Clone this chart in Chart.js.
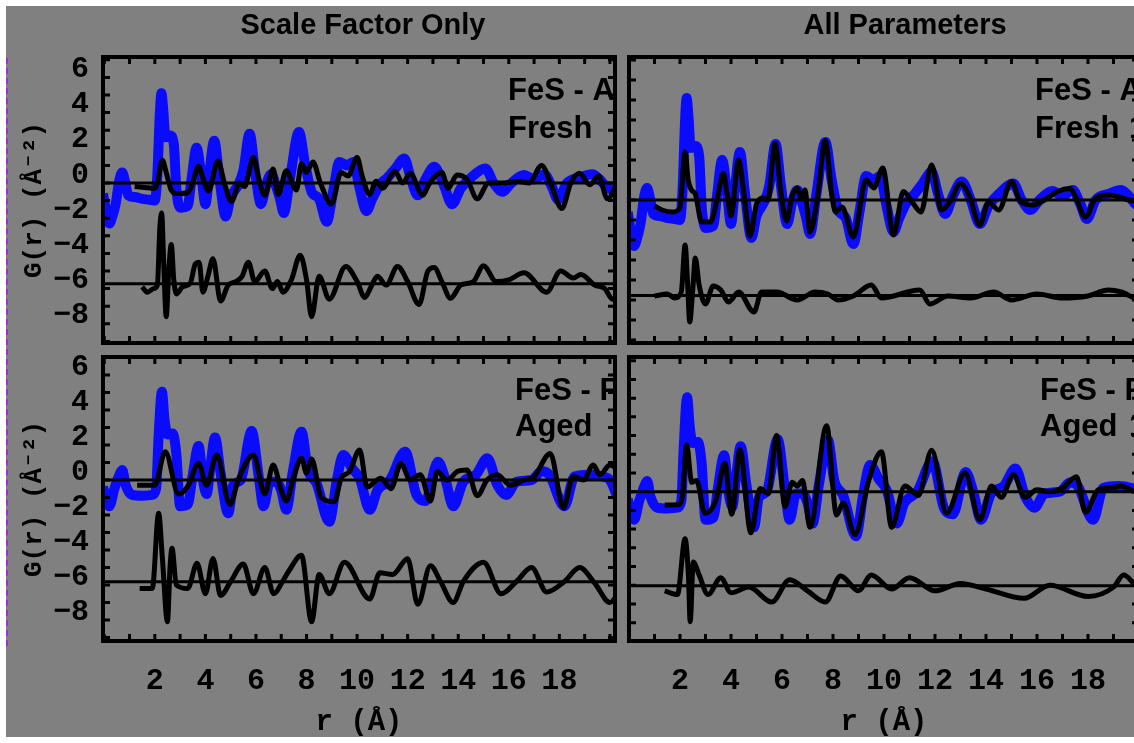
<!DOCTYPE html>
<html>
<head>
<meta charset="utf-8">
<script src="https://cdn.jsdelivr.net/npm/chart.js@4.4.1/dist/chart.umd.min.js"></script>
<style>
  html, body { margin: 0; padding: 0; width: 1134px; height: 743px; overflow: hidden; background: #fff; }
  #bg { position: absolute; left: 6px; top: 6px; width: 1128px; height: 731px; background: #808080; }
  #dash { position: absolute; left: 6px; top: 58px; height: 588px; border-left: 2px dashed #9b30d9; }
  canvas { position: absolute; }
</style>
</head>
<body>
<div id="bg"></div>
<div id="dash"></div>
<canvas id="tl" width="625" height="350" style="left:0;top:0"></canvas>
<canvas id="tr" width="530" height="350" style="left:620px;top:0"></canvas>
<canvas id="bl" width="625" height="398" style="left:0;top:345px"></canvas>
<canvas id="br" width="530" height="398" style="left:620px;top:345px"></canvas>
<script>
// tick labels
const rTickLabels = [2, 4, 6, 8, 10, 12, 14, 16, 18];
const gTickLabels = [6, 4, 2, 0, -2, -4, -6, -8];

// measured G(r), fresh sample (blue)
const freshR = [-0.05,0.1,0.2,0.3,0.45,0.6,0.71,0.82,0.95,1.2,1.5,1.8,2.0,2.1,2.2,2.26,2.33,2.42,2.6,2.75,2.85,3.0,3.3,3.45,3.65,3.85,4.0,4.15,4.35,4.55,4.8,5.0,5.3,5.5,5.75,5.95,6.2,6.4,6.6,6.8,6.95,7.1,7.35,7.7,7.95,8.2,8.5,8.8,9.05,9.3,9.6,9.85,10.1,10.37,10.6,10.9,11.2,11.5,11.87,12.1,12.4,12.7,13.05,13.4,13.76,14.1,14.5,15.07,15.4,15.75,16.1,16.6,17.0,17.4,17.7,17.95,18.3,18.8,19.3,19.6,19.85,20.2,20.4];
const freshG = [-0.6,-1.8,-2.3,-2.0,-1.2,0.2,0.6,0.1,-0.7,-0.8,-0.9,-0.95,-1.0,0.5,4.0,5.1,4.2,2.6,2.7,2.2,-0.3,-1.4,-1.3,0.2,2.0,0.3,-1.2,0.5,2.4,0.3,-1.9,-0.8,-0.1,0.7,2.8,0.8,-1.2,-0.1,0.5,-0.2,-0.9,-1.7,0.3,2.9,1.0,-0.5,-0.9,-2.2,-0.5,1.2,1.0,1.2,-0.3,-1.6,-0.9,-0.1,0.3,0.8,1.4,0.4,-0.7,0.2,0.92,0.0,-1.2,-0.3,0.3,0.82,0.0,-0.5,0.0,0.45,0.2,0.5,-0.2,-0.95,0.0,0.3,0.5,0.2,-0.2,-0.4,-0.3];

// measured G(r), aged sample (blue)
const agedR = [-0.05,0.2,0.4,0.6,0.71,0.85,1.1,1.5,1.9,2.05,2.15,2.28,2.38,2.5,2.7,2.85,3.0,3.3,3.5,3.73,3.9,4.05,4.2,4.38,4.6,4.9,5.1,5.4,5.83,6.1,6.3,6.55,6.8,7.0,7.2,7.45,7.8,8.05,8.4,8.9,9.2,9.45,9.8,10.1,10.5,10.8,11.3,11.9,12.35,12.7,13.2,13.5,13.8,14.2,14.7,15.15,15.55,15.9,16.3,16.9,17.3,17.6,18.2,18.6,19.2,19.7,20.0,20.35];
const agedG = [-0.4,-1.5,-0.5,0.3,0.57,-0.3,-0.85,-0.9,-0.85,-0.5,2.5,5.05,3.5,2.6,2.66,1.5,-1.5,-1.4,0.3,1.95,0.0,-0.8,0.8,2.43,0.4,-1.9,-0.3,0.0,2.8,0.3,-1.5,-0.1,-0.1,-0.6,-1.7,0.4,2.76,0.6,-0.2,-2.38,0.0,1.43,0.67,0.1,-1.7,-0.6,0.0,1.62,-0.86,-1.2,1.05,0.0,-1.5,-0.1,0.3,1.24,-0.3,-0.86,-0.1,0.0,0.5,0.3,-1.5,0.2,0.3,0.2,0.0,-1.2];

// fresh, scale factor only: fit and difference
const fitScaleFreshR = [1.2,1.6,2.0,2.1,2.3,2.45,2.65,2.87,3.3,3.5,3.73,3.9,4.12,4.5,4.75,5.03,5.35,5.55,5.9,6.1,6.35,6.68,6.88,7.2,7.6,7.8,8.0,8.25,8.55,8.98,9.37,9.65,10.0,10.2,10.5,10.75,11.0,11.5,11.8,12.1,12.6,12.85,13.35,13.6,13.95,14.35,14.75,15.2,15.8,16.3,16.8,17.3,17.65,18.1,18.45,18.8,19.2,19.55,19.9,20.3];
const fitScaleFreshG = [-0.2,-0.25,-0.3,0.0,1.3,0.6,-0.4,-0.6,-0.55,0.0,0.95,0.3,-0.45,1.25,0.0,-1.05,0.0,-0.2,1.45,0.3,-0.7,0.8,-0.65,0.7,-0.4,1.1,0.6,1.2,0.0,-1.2,0.6,0.4,1.45,0.4,-0.65,0.1,-0.3,0.65,0.0,0.55,-0.7,-0.05,0.6,-0.3,0.45,0.2,-0.9,0.0,0.0,0.1,0.0,1.0,0.0,-1.45,0.0,0.55,-0.1,0.4,-0.9,0.0];
const diffScaleFreshR = [1.5,1.7,1.95,2.1,2.2,2.27,2.35,2.45,2.55,2.65,2.75,2.85,3.1,3.4,3.6,3.75,3.9,4.1,4.3,4.6,4.9,5.2,5.45,5.7,5.95,6.35,6.65,6.85,7.07,7.4,7.75,8.0,8.2,8.5,8.9,9.55,10.0,10.3,10.55,10.8,11.15,11.6,12.0,12.45,12.8,13.05,13.35,13.7,14.1,14.6,15.0,15.5,16.0,16.6,17.5,18.05,18.55,18.85,19.4,19.8,20.1,20.4];
const diffScaleFreshG = [-5.9,-6.2,-6.0,-5.8,-2.5,-1.7,-4.5,-7.6,-5.0,-3.5,-5.5,-6.3,-5.9,-5.7,-4.6,-4.5,-6.2,-5.3,-4.3,-6.7,-5.8,-5.6,-5.3,-4.5,-5.6,-5.0,-6.0,-5.6,-6.2,-5.5,-4.1,-5.5,-7.6,-5.3,-6.6,-4.75,-5.6,-6.5,-5.9,-5.3,-5.8,-4.75,-5.6,-6.9,-5.0,-4.8,-5.6,-6.55,-5.8,-5.6,-4.7,-5.6,-5.5,-5.1,-6.2,-5.0,-5.4,-5.2,-5.8,-6.0,-6.6,-6.3];

// fresh, all parameters: fit and difference
const fitAllFreshR = [1.0,1.3,1.7,2.0,2.2,2.32,2.45,2.6,2.85,3.2,3.45,3.7,3.85,4.0,4.3,4.5,4.75,5.0,5.25,5.45,5.73,5.95,6.18,6.4,6.6,6.75,6.9,7.1,7.4,7.7,7.95,8.1,8.35,8.8,9.3,9.6,9.95,10.37,10.76,11.1,11.45,11.87,12.25,12.6,13.0,13.35,13.76,14.1,14.5,15.0,15.35,15.85,16.3,16.8,17.3,17.5,17.9,18.3,18.8,19.2,19.6,20.0];
const fitAllFreshG = [-0.3,-0.5,-0.6,-0.4,2.4,1.0,0.5,0.3,-1.1,-1.1,0.0,1.33,0.3,-0.8,2.0,0.4,-1.8,-0.2,0.1,0.0,2.83,0.5,-1.05,0.2,0.6,0.1,0.5,-1.6,0.2,2.98,0.3,-0.6,-0.35,-1.85,1.0,0.6,1.6,-1.75,0.42,-0.1,-0.6,1.75,-0.5,-0.07,0.82,0.2,-1.25,-0.1,-0.5,0.92,-0.08,-0.25,0.0,0.42,0.58,0.2,-0.85,0.08,0.25,0.15,0.0,-0.1];
const diffAllFreshR = [1.0,1.5,1.8,2.05,2.2,2.3,2.38,2.5,2.6,2.75,3.0,3.3,3.6,3.9,4.3,4.9,5.2,5.8,6.6,7.3,7.8,8.2,8.8,9.5,9.9,11.4,11.8,12.5,13.4,14.3,15.0,16.0,17.0,18.0,18.8,19.3,19.8];
const diffAllFreshG = [-4.8,-4.7,-4.9,-4.6,-2.25,-4.2,-6.1,-4.5,-2.9,-4.25,-5.2,-4.3,-4.5,-5.1,-4.6,-5.6,-4.6,-4.6,-5.0,-4.6,-4.7,-5.0,-4.8,-4.25,-4.9,-4.5,-5.2,-4.8,-4.9,-4.6,-5.0,-4.7,-4.9,-4.8,-4.5,-4.6,-4.9];

// aged, scale factor only: fit and difference
const fitScaleAgedR = [1.3,2.0,2.41,2.94,3.33,3.73,4.05,4.45,4.97,5.3,5.9,6.35,6.68,7.0,7.2,7.5,7.8,8.0,8.2,8.58,9.1,9.37,9.7,10.1,10.4,10.94,11.34,11.73,12.1,12.5,12.9,13.17,13.57,13.96,14.35,14.75,15.14,15.54,16.06,16.6,17.0,17.64,18.16,18.55,18.95,19.34,19.6,20.0,20.4];
const fitScaleAgedG = [-0.3,-0.3,1.62,-0.8,-0.3,0.95,-0.3,1.43,-1.4,0.0,1.43,-0.8,0.86,-0.6,-1.2,0.2,1.24,0.4,1.2,-1.0,-1.24,0.1,0.48,1.71,-0.4,0.1,-0.5,0.95,0.0,0.3,-1.2,0.48,0.0,0.48,0.57,-0.9,0.0,0.3,-0.3,0.0,0.2,1.52,-1.6,0.2,0.0,0.86,0.3,0.86,0.5];
const diffScaleAgedR = [1.4,1.9,2.15,2.3,2.5,2.6,2.68,2.85,3.3,3.67,4.0,4.3,4.6,5.0,5.5,5.9,6.35,6.7,7.05,7.3,7.8,8.2,8.5,8.9,9.5,10.5,10.9,11.4,12.0,12.4,12.9,13.3,13.8,14.2,15.0,15.7,16.3,16.9,17.5,18.2,18.8,19.4,20.0,20.4];
const diffScaleAgedG = [-6.2,-6.2,-1.9,-4.5,-8.1,-5.0,-3.9,-6.0,-6.2,-4.76,-6.5,-4.48,-6.6,-5.8,-4.8,-6.5,-5.0,-6.5,-5.8,-5.2,-4.3,-8.1,-5.4,-6.5,-4.7,-6.8,-5.3,-5.4,-4.5,-7.1,-4.9,-5.8,-7.0,-5.8,-4.7,-6.5,-5.8,-5.0,-6.4,-5.8,-5.0,-5.9,-7.0,-6.3];

// aged, all parameters: fit and difference
const fitAllAgedR = [1.4,1.93,2.1,2.26,2.46,2.65,2.98,3.4,3.76,4.03,4.35,4.78,5.14,5.46,5.79,6.12,6.4,6.6,6.8,7.1,7.75,8.14,8.4,8.86,9.39,9.9,10.3,10.82,11.35,11.87,12.46,13.18,13.76,14.22,14.6,15.07,15.53,16.0,16.5,17.0,17.55,17.9,18.4,18.9,19.3,19.8];
const fitAllAgedG = [-0.71,-0.7,-0.2,2.5,0.5,0.6,-1.15,-0.5,1.52,-1.2,2.24,-2.2,0.17,-0.1,3.0,-0.8,0.5,0.3,0.6,-1.9,3.53,-1.25,-0.6,-2.3,0.55,2.13,-1.9,0.3,-0.2,2.22,-1.15,1.0,-1.5,0.3,-0.3,0.9,-0.3,0.1,0.0,0.2,0.8,-1.1,0.1,0.2,0.3,0.0];
const diffAllAgedR = [1.4,1.9,2.2,2.33,2.4,2.52,2.75,3.1,3.6,4.0,4.7,5.6,6.3,7.0,7.7,8.3,9.0,9.5,10.3,11.0,12.0,13.0,14.0,15.5,16.5,18.0,19.0,19.4,19.8];
const diffAllAgedG = [-5.3,-5.5,-2.52,-4.5,-6.95,-3.76,-4.45,-5.5,-4.6,-5.4,-5.1,-5.9,-4.7,-5.3,-5.9,-4.5,-5.3,-4.45,-5.2,-4.6,-5.3,-4.9,-5.2,-5.7,-5.0,-5.6,-5.1,-4.45,-4.9];

// where the difference curves sit
const diffBaseScaleFresh = -5.72;
const diffBaseAllFresh = -4.78;
const diffBaseScaleAged = -5.81;
const diffBaseAllAged = -5.03;

function pts(xs, ys) {
  return xs.map((x, i) => ({ x: x, y: ys[i] }));
}

function fmtTick(v, list) {
  const n = Math.round(v);
  if (Math.abs(v - n) > 1e-6 || !list.includes(n)) return '';
  return String(n).replace('-', '\u2212');
}

// frame, inward ticks and the panel texts
const framePlugin = {
  id: 'frame',
  afterDraw(chart, args, opts) {
    const { ctx, chartArea: a, scales } = chart;
    const xs = scales.x, ys = scales.y;
    ctx.save();
    ctx.strokeStyle = '#000';
    ctx.lineWidth = 3;
    ctx.beginPath();
    for (let v = Math.ceil(xs.min); v <= xs.max; v++) {
      const px = xs.getPixelForValue(v);
      ctx.moveTo(px, a.top); ctx.lineTo(px, a.top + 7);
      ctx.moveTo(px, a.bottom); ctx.lineTo(px, a.bottom - 7);
    }
    for (let v = Math.ceil(ys.min); v <= ys.max; v++) {
      const py = ys.getPixelForValue(v);
      ctx.moveTo(a.left, py); ctx.lineTo(a.left + 7, py);
      ctx.moveTo(a.right, py); ctx.lineTo(a.right - 7, py);
    }
    ctx.stroke();
    ctx.lineWidth = 4;
    ctx.strokeRect(a.left, a.top, a.right - a.left, a.bottom - a.top);

    ctx.fillStyle = '#000';
    if (opts.title) {
      ctx.font = 'bold 29px "Liberation Sans", Arial, sans-serif';
      ctx.textAlign = 'center';
      ctx.textBaseline = 'middle';
      ctx.fillText(opts.title, a.left + opts.titleDx, 26);
    }
    ctx.beginPath();
    ctx.rect(a.left, a.top, a.right - a.left, a.bottom - a.top);
    ctx.clip();
    ctx.font = 'bold 31px "Liberation Sans", Arial, sans-serif';
    ctx.textAlign = 'left';
    ctx.textBaseline = 'alphabetic';
    opts.labels.forEach(l => ctx.fillText(l.text, a.left + l.dx, a.top + l.dy));
    ctx.restore();
  }
};

function makePanel(id, p) {
  const datasets = [
    { data: pts(p.diffR, p.diffG), borderColor: '#000', borderWidth: 5, order: 0 },
    { data: pts(p.fitR, p.fitG), borderColor: '#000', borderWidth: 5, order: 1 },
    { data: pts([p.xMin, p.xMax], [0, 0]), borderColor: '#000', borderWidth: 3, order: 2 },
    { data: pts([p.xMin, p.xMax], [p.diffBase, p.diffBase]), borderColor: '#000', borderWidth: 3, order: 2 },
    { data: pts(p.dataR, p.dataG), borderColor: '#0a0aff', borderWidth: 10, order: 3 }
  ];
  datasets.forEach(d => {
    d.pointRadius = 0;
    d.fill = false;
    d.cubicInterpolationMode = 'monotone';
    d.borderJoinStyle = 'round';
  });

  const monoBold = { family: '"Liberation Mono", "DejaVu Sans Mono", monospace', weight: 'bold' };

  return new Chart(document.getElementById(id), {
    type: 'line',
    data: { datasets: datasets },
    options: {
      responsive: false,
      animation: false,
      events: [],
      layout: { padding: p.padding },
      plugins: {
        legend: { display: false },
        tooltip: { enabled: false },
        frame: { title: p.title, titleDx: p.titleDx, labels: p.labels }
      },
      scales: {
        x: {
          type: 'linear',
          min: p.xMin,
          max: p.xMax,
          display: p.showX,
          grid: { display: false },
          border: { display: false },
          afterFit: s => {
            if (p.showX) s.height = 102;
            s.paddingLeft = 0; s.paddingRight = 0; s.paddingTop = 0; s.paddingBottom = 0;
          },
          ticks: {
            stepSize: 1,
            autoSkip: false,
            includeBounds: false,
            maxRotation: 0,
            minRotation: 0,
            padding: 14,
            color: '#000',
            font: Object.assign({ size: 30 }, monoBold),
            callback: v => fmtTick(v, rTickLabels)
          },
          title: {
            display: true,
            text: 'r (Å)',
            color: '#000',
            font: Object.assign({ size: 29 }, monoBold),
            padding: { top: 0, bottom: 3 }
          }
        },
        y: {
          type: 'linear',
          min: p.yMin,
          max: p.yMax,
          display: p.showY,
          grid: { display: false },
          border: { display: false },
          afterFit: s => {
            if (p.showY) s.width = 103;
            s.paddingLeft = 0; s.paddingRight = 0; s.paddingTop = 0; s.paddingBottom = 0;
          },
          ticks: {
            stepSize: 1,
            autoSkip: false,
            includeBounds: false,
            padding: 6,
            labelOffset: -8,
            color: '#000',
            font: Object.assign({ size: 30 }, monoBold),
            callback: v => fmtTick(v, gTickLabels)
          },
          title: {
            display: true,
            text: 'G(r) (Å⁻²)',
            color: '#000',
            font: Object.assign({ size: 26 }, monoBold),
            padding: { top: 19, bottom: 0 }
          }
        }
      }
    },
    plugins: [framePlugin]
  });
}

makePanel('tl', {
  dataR: freshR, dataG: freshG,
  fitR: fitScaleFreshR, fitG: fitScaleFreshG,
  diffR: diffScaleFreshR, diffG: diffScaleFreshG, diffBase: diffBaseScaleFresh,
  xMin: -0.05, xMax: 20.2, yMin: -9.09, yMax: 7.16,
  showX: false, showY: true,
  padding: { top: 57, right: 10, bottom: 7, left: 0 },
  title: 'Scale Factor Only', titleDx: 260,
  labels: [{ text: 'FeS - A', dx: 405, dy: 43 }, { text: 'Fresh', dx: 405, dy: 81 }]
});

makePanel('tr', {
  dataR: freshR, dataG: freshG,
  fitR: fitAllFreshR, fitG: fitAllFreshG,
  diffR: diffAllFreshR, diffG: diffAllFreshG, diffBase: diffBaseAllFresh,
  xMin: 0, xMax: 20, yMin: -7.15, yMax: 7.15,
  showX: false, showY: false,
  padding: { top: 57, right: 11, bottom: 7, left: 9 },
  title: 'All Parameters', titleDx: 276,
  labels: [{ text: 'FeS - A', dx: 406, dy: 43 }, { text: 'Fresh', dx: 406, dy: 81 }, { text: '1', dx: 500, dy: 81 }]
});

makePanel('bl', {
  dataR: agedR, dataG: agedG,
  fitR: fitScaleAgedR, fitG: fitScaleAgedG,
  diffR: diffScaleAgedR, diffG: diffScaleAgedG, diffBase: diffBaseScaleAged,
  xMin: -0.05, xMax: 20.2, yMin: -9.2, yMax: 7.03,
  showX: true, showY: true,
  padding: { top: 12, right: 10, bottom: 0, left: 0 },
  labels: [{ text: 'FeS - F', dx: 412, dy: 43 }, { text: 'Aged', dx: 412, dy: 79 }]
});

makePanel('br', {
  dataR: agedR, dataG: agedG,
  fitR: fitAllAgedR, fitG: fitAllAgedG,
  diffR: diffAllAgedR, diffG: diffAllAgedG, diffBase: diffBaseAllAged,
  xMin: 0, xMax: 20, yMin: -7.98, yMax: 7.2,
  showX: true, showY: false,
  padding: { top: 12, right: 11, bottom: 0, left: 9 },
  labels: [{ text: 'FeS - F', dx: 411, dy: 43 }, { text: 'Aged', dx: 411, dy: 79 }, { text: '1', dx: 500, dy: 79 }]
});
</script>
</body>
</html>
